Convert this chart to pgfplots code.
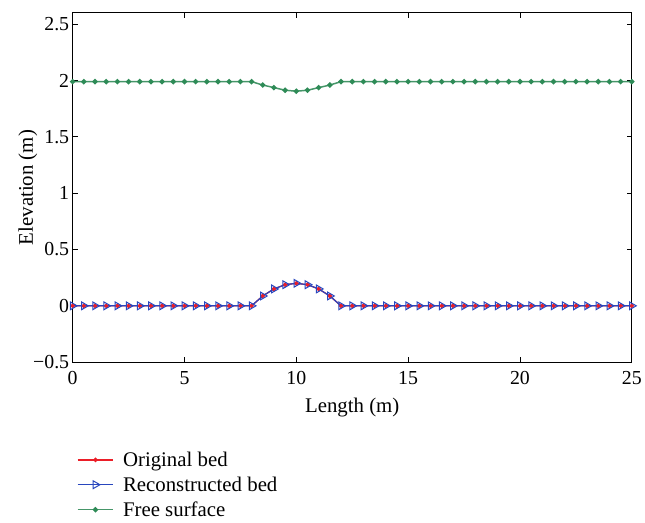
\documentclass[border=0pt]{standalone}
\usepackage{fontspec}
\setmainfont{Liberation Serif}
\usepackage{pgfplots}
\pgfplotsset{compat=1.18}
\usepackage{pgfplotstable}

\definecolor{bedred}{RGB}{235,30,40}
\definecolor{recblue}{RGB}{40,70,190}
\definecolor{surfgreen}{RGB}{46,139,87}
\definecolor{surfline}{RGB}{70,150,105}

% x, original bed, free surface (reconstructed bed = same points)
\pgfplotstableread{
x    bed     surf
0    0       1.99
0.5  0       1.99
1    0       1.99
1.5  0       1.99
2    0       1.99
2.5  0       1.99
3    0       1.99
3.5  0       1.99
4    0       1.99
4.5  0       1.99
5    0       1.99
5.5  0       1.99
6    0       1.99
6.5  0       1.99
7    0       1.99
7.5  0       1.99
8    0       1.99
8.5  0.0875  1.96
9    0.15    1.937
9.5  0.1875  1.914
10   0.2     1.905
10.5 0.1875  1.914
11   0.15    1.937
11.5 0.0875  1.96
12   0       1.99
12.5 0       1.99
13   0       1.99
13.5 0       1.99
14   0       1.99
14.5 0       1.99
15   0       1.99
15.5 0       1.99
16   0       1.99
16.5 0       1.99
17   0       1.99
17.5 0       1.99
18   0       1.99
18.5 0       1.99
19   0       1.99
19.5 0       1.99
20   0       1.99
20.5 0       1.99
21   0       1.99
21.5 0       1.99
22   0       1.99
22.5 0       1.99
23   0       1.99
23.5 0       1.99
24   0       1.99
24.5 0       1.99
25   0       1.99
}\bedtable

\begin{document}
\begin{tikzpicture}
\begin{axis}[
    name=ax,
    scale only axis,
    width=562bp,
    height=351bp,
    xmin=0, xmax=25,
    ymin=-0.5, ymax=2.6,
    xtick={0,5,...,25},
    ytick={-0.5,0,0.5,1,1.5,2,2.5},
    yticklabels={−0.5,0,0.5,1,1.5,2,2.5},
    tick align=inside,
    major tick length=5bp,
    axis line style={line width=0.9bp},
    every tick/.style={black,line width=0.8bp},
    /pgf/number format/assume math mode=true,
    tick label style={font=\fontsize{20}{24}\selectfont},
    xticklabel style={yshift=-6bp},
    label style={font=\fontsize{21}{25}\selectfont},
    xlabel={Length (m)},
    ylabel={Elevation (m)},
    xlabel style={at={(axis description cs:0.5,-0.131)}, anchor=center},
    ylabel style={at={(axis description cs:-0.08,0.5)}, anchor=center},
    legend style={at={(0,0)}, anchor=north west, xshift=1bp, yshift=-86bp,
        draw=none, fill=none, font=\fontsize{21}{25}\selectfont,
        row sep=5bp, column sep=7bp,
        cells={anchor=west}},
    legend cell align=left,
    legend image code/.code={%
        \draw[mark repeat=2,mark phase=2,#1]
        plot coordinates {(0bp,0bp) (18bp,0bp) (36bp,0bp)};},
]
\addplot[color=bedred, line width=1.3bp, mark=*, mark size=1.6bp,
    mark options={fill=bedred, draw=bedred}]
    table[x=x, y=bed] {\bedtable};
\addlegendentry{Original bed}
\addplot[color=recblue, line width=1.2bp, mark=triangle, mark size=4.5bp,
    mark options={rotate=-90, draw=recblue, fill=none, line width=1bp}]
    table[x=x, y=bed] {\bedtable};
\addlegendentry{Reconstructed bed}
\addplot[color=surfline, line width=1.5bp, mark=*, mark size=1.9bp,
    mark options={fill=surfgreen, draw=surfgreen}]
    table[x=x, y=surf] {\bedtable};
\addlegendentry{Free surface}
\end{axis}
\path (ax.south west) ++(-73bp,-161bp) rectangle ++(645bp,525bp);
\end{tikzpicture}
\end{document}
